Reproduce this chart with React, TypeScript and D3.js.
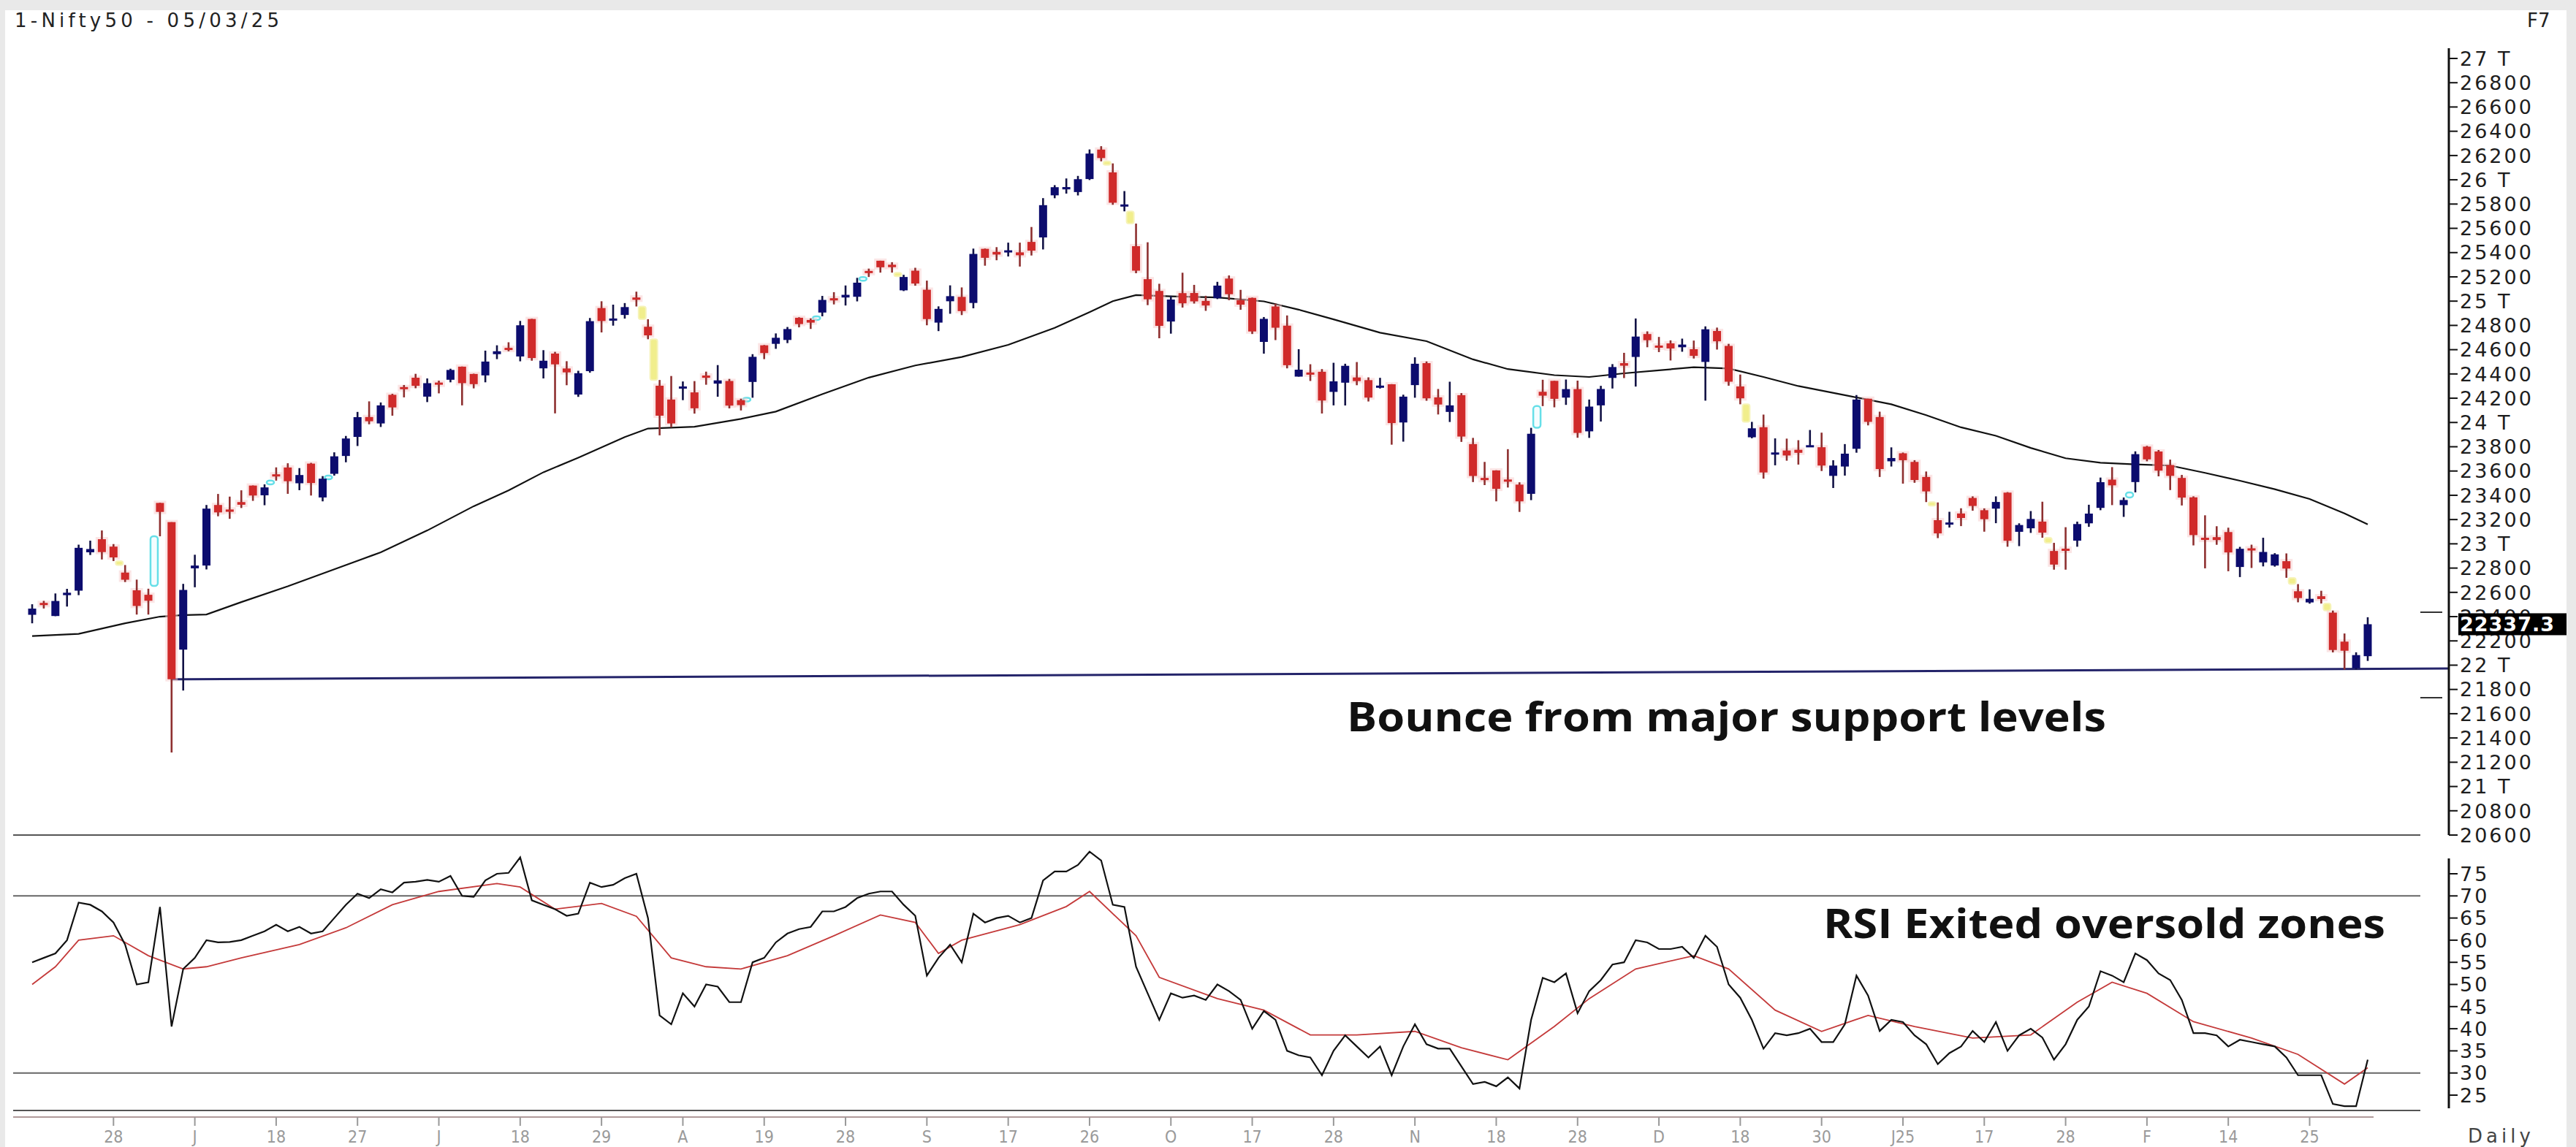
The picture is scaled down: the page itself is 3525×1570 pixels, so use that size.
import React from "react";
import * as d3 from "d3";

// ---------------- DATA ----------------
const opens = [22415,22513,22405,22577,22614,22930,23038,22977,22763,22617,22580,23337,23179,22128,22798,22821,23320,23283,23344,23480,23400,23573,23629,23499,23661,23382,23577,23724,23881,24045,23992,24228,24292,24369,24213,24329,24352,24460,24400,24388,24563,24615,24544,24853,24446,24568,24445,24230,24423,24943,24839,24886,25030,24789,24303,24189,24290,24248,24387,24320,24342,24184,24334,24636,24648,24680,24863,24845,24906,25024,25030,25036,25249,25333,25300,25089,25251,25094,24823,24999,25035,24985,25431,25406,25416,25402,25488,25525,25872,25921,25899,26006,26249,26061,25788,25453,25181,25084,24832,25066,25067,25002,25024,25186,25008,25027,24664,24956,24798,24378,24412,24418,24252,24328,24371,24349,24302,24315,24000,24308,24489,24207,24087,24225,23822,23543,23605,23530,23488,23412,24253,24343,24205,24275,23927,24141,24367,24489,24540,24729,24634,24652,24620,24604,24499,24754,24631,24297,23878,23961,23738,23769,23775,23801,23796,23560,23637,23783,24196,24045,23680,23746,23675,23551,23195,23165,23250,23378,23277,23290,23422,23099,23128,23183,22941,22960,23026,23169,23296,23529,23319,23509,23801,23761,23649,23543,23383,23050,23055,23097,22809,22963,22847,22821,22857,22609,22517,22568,22433,22194,21974,22074];
const highs = [22502,22530,22591,22629,22993,23026,23110,22998,22825,22705,22630,23338,23179,22670,22910,23320,23411,23389,23441,23481,23490,23630,23664,23624,23667,23558,23754,23889,24087,24174,24165,24236,24309,24401,24363,24345,24443,24461,24402,24592,24636,24661,24837,24854,24596,24582,24505,24426,24861,24999,24971,24984,25078,24851,24350,24383,24338,24341,24419,24473,24359,24196,24563,24638,24734,24787,24867,24858,25043,25074,25129,25192,25268,25333,25321,25217,25275,25169,24957,25130,25113,25433,25433,25445,25482,25482,25611,25849,25956,26011,26032,26250,26277,26135,25907,25639,25485,25143,25044,25234,25134,25044,25159,25212,25093,25029,24869,24979,24882,24604,24480,24440,24492,24484,24498,24372,24368,24316,24229,24537,24503,24276,24336,24242,23873,23675,23606,23780,23507,23956,24352,24343,24354,24345,24189,24302,24481,24574,24857,24751,24705,24677,24691,24675,24792,24782,24648,24395,24005,24065,23869,23867,23854,23938,23916,23689,23822,24226,24196,24089,23795,23752,23689,23596,23341,23264,23293,23391,23292,23391,23426,23169,23270,23347,23008,23137,23183,23322,23546,23632,23382,23762,23807,23773,23694,23568,23391,23235,23145,23133,22975,22993,23050,22923,22921,22668,22625,22613,22450,22261,22106,22395];
const lows = [22345,22467,22404,22483,22577,22908,22871,22858,22685,22417,22417,23062,21281,21791,22642,22789,23227,23206,23295,23354,23318,23521,23412,23442,23398,23350,23562,23672,23806,23985,23963,24056,24207,24282,24168,24240,24331,24141,24281,24331,24522,24587,24504,24509,24363,24075,24307,24211,24410,24742,24798,24856,24956,24686,23894,23960,24184,24073,24311,24212,24116,24099,24204,24522,24607,24654,24784,24771,24875,24973,24964,24998,25199,25235,25235,25083,25127,24801,24753,24896,24885,24941,25292,25337,25368,25285,25376,25426,25848,25886,25871,25998,26152,25794,25740,25230,24967,24694,24732,24947,24980,24920,25017,25008,24929,24729,24567,24679,24446,24378,24342,24074,24141,24140,24307,24173,24280,23817,23842,24204,24179,24066,24004,23840,23509,23484,23350,23464,23263,23360,24135,24125,24145,23874,23873,24008,24280,24366,24296,24620,24580,24511,24583,24527,24180,24601,24303,24150,23870,23537,23647,23685,23653,23800,23600,23460,23562,23751,23976,23551,23637,23496,23503,23344,23047,23134,23146,23273,23100,23170,22976,22981,23090,23050,22787,22787,22976,23140,23277,23319,23222,23424,23680,23556,23443,23316,22987,22798,22992,22774,22726,22801,22814,22812,22720,22518,22507,22508,22105,21964,21964,22035];
const closes = [22466,22502,22529,22597,22967,22957,22932,22888,22704,22488,22531,23263,21884,22620,22821,23290,23259,23264,23322,23398,23465,23557,23516,23567,23501,23537,23721,23868,24044,24010,24141,24124,24286,24302,24324,24321,24433,24324,24316,24502,24587,24613,24801,24531,24509,24479,24413,24406,24835,24836,24857,24951,25011,24718,24056,23992,24297,24117,24368,24347,24139,24143,24541,24572,24698,24770,24811,24823,25010,25017,25052,25152,25236,25279,25280,25199,25145,24852,24936,25041,24918,25389,25357,25384,25419,25378,25416,25791,25939,25940,26005,26216,26179,25811,25797,25251,25015,24796,25013,24982,24998,24964,25128,25057,24971,24750,24854,24781,24472,24435,24399,24181,24339,24467,24341,24205,24304,23995,24213,24484,24199,24148,24141,23884,23559,23533,23453,23518,23350,23907,24221,24195,24275,23914,24131,24276,24457,24468,24708,24678,24620,24610,24642,24549,24768,24669,24336,24199,23952,23588,23753,23728,23750,23813,23645,23645,23743,24189,24005,23616,23707,23689,23526,23432,23086,23176,23213,23312,23203,23345,23025,23155,23205,23092,22829,22957,23163,23249,23508,23482,23361,23739,23696,23603,23560,23381,23072,23045,23031,22929,22959,22945,22933,22913,22796,22553,22547,22545,22125,22119,22083,22337.3];

// Moving average (bar index, value)
const maBars = [0,4,8,11,13,15,18,22,26,30,34,38,41,44,47,51,53,57,61,64,68,72,76,80,84,88,91,93,95,98,102,106,109,112,116,120,124,127,131,134,137,140,143,146,149,152,156,160,163,166,169,172,175,178,181,184,187,190,193,196,199,201];
const maValues = [22240,22258,22345,22400,22413,22418,22520,22650,22790,22930,23110,23310,23440,23590,23710,23880,23950,23965,24030,24090,24234,24370,24470,24540,24640,24780,24910,25000,25050,25040,25030,24998,24930,24850,24740,24670,24520,24440,24390,24375,24405,24430,24455,24445,24375,24300,24225,24150,24060,23960,23890,23790,23705,23668,23655,23645,23585,23520,23450,23370,23250,23160];

// RSI per bar
const rsiValues = [55,56,57,60,68.5,68,66.5,64,59,50,50.5,67.5,40.5,53.5,56,60,59.5,59.6,60,61,62,63.5,62,63,61.5,62,65,68,70.5,69.5,71.5,70.8,73,73.2,73.6,73.2,74.5,70,69.8,73.5,75,75.2,78.7,69,68,67,65.5,66,73,72,72.5,74,75,65,43,41,48,45,50,49.5,46,46,55,56,59.5,61.5,62.5,63,66.5,66.5,67.5,69.5,70.5,71,71,68,65.5,52,56,59,55,66,64,65,65.5,64,65,73.5,75.5,75.5,77,80,78,68,67.5,54,48,42,48,47,47.5,46.5,50,48.5,46.5,40,44,42,35,34,33.5,29.5,35,38.5,36,33.5,36,29.5,36,41,36.5,35.5,35.5,31.5,27.5,28,27,29,26.5,42,51.5,50.5,52.5,43.5,48.5,51,54.5,55,60,59.5,58,58,58.5,56,61,58.5,50,47,42,35.5,39,38.5,39,40,37,37,41,52,47.5,39.5,42,41.5,38.5,36.5,32,34.5,36,39.5,37,41.5,35,38.5,40,38,33,36.5,42,45,53,52,50.5,57,55.5,52.5,51,46.5,39,39,38.5,36,37.5,37,36.5,36,33.5,29.5,29.5,29.5,23,22.5,22.5,33];
// RSI signal line (bar index, value)
const sigBars = [0,2,4,7,10,13,15,18,23,27,31,35,40,42,45,49,52,55,58,61,65,69,73,76,78,80,85,89,91,95,97,102,106,110,114,119,123,127,131,134,138,143,146,150,154,158,162,167,172,176,179,182,186,191,195,199,201];
const sigValues = [50,54,60,61,56.5,53.5,54,56,59,62.8,68,71,72.8,72,67,68.3,65.4,56,54,53.5,56.5,61,65.7,64,57,60,63.5,67.6,71,61,51.6,46.8,44.2,38.6,38.6,39.4,35.7,33,40.5,46.8,53.5,56.5,53.5,44.2,39.4,43,40.5,37.9,38.6,46,50.5,48,41.6,37.9,34.2,27.5,31.2];

// Gap markers: position between bars, price range, kind
const gapPos = [7.5,10.5,20.5,25.5,52.5,53.5,61.5,67.5,71.5,74.5,92.5,94.5,129.5,147.5,163.5,173.5,180.5,194.5,197.5];
const gapLo = [22825,22653,23490,23558,24851,24350,24196,24858,25192,25217,26135,25639,23956,24005,23341,23008,23382,22668,22450];
const gapHi = [22858,23062,23521,23562,24956,24686,24204,24875,25199,25235,26152,25740,24135,24150,23344,23050,23424,22720,22508];
const gapUp = [false,true,true,true,false,false,true,true,true,false,false,false,true,false,false,false,true,false,false];

const xTickBars = d3.range(7, 197, 7);
const xTickLabels = ["28","J","18","27","J","18","29","A","19","28","S","17","26","O","17","28","N","18","28","D","18","30","J25","17","28","F","14","25"];
const priceTicks = d3.range(20600, 27001, 200);
const rsiTicks = [25,30,35,40,45,50,55,60,65,70,75];

const lastPrice = 22337.3;

// ---------------- CHART ----------------
export default function App() {
  const W = 3525, H = 1570;
  const x = d3.scaleLinear().domain([0, 201]).range([44, 3240]);
  const y = d3.scaleLinear().domain([20600, 27000]).range([1143, 80]);
  const r = d3.scaleLinear().domain([25, 75]).range([1499, 1196]);
  const axisX = 3351;
  const bodyW = 11;

  const maPath = d3.line<number>().x((_, i) => x(maBars[i])).y((v) => y(v))(maValues) || "";
  const rsiPath = d3.line<number>().x((_, i) => x(i)).y((v) => r(v))(rsiValues) || "";
  const sigPath = d3.line<number>().x((_, i) => x(sigBars[i])).y((v) => r(v))(sigValues) || "";

  const fmtPrice = (p: number) => (p % 1000 === 0 ? `${p / 1000} T` : `${p}`);
  const axisFont = "DejaVu Sans, Verdana, sans-serif";
  const boldFont = "Open Sans, Noto Sans, sans-serif";

  return (
    <svg width={W} height={H} style={{ position: "absolute", left: 0, top: 0, display: "block" }}>
      <rect x={0} y={0} width={W} height={H} fill="#e9e9e9" />
      <rect x={7} y={14} width={3505} height={H - 14} fill="#ffffff" />

      {/* title */}
      <text x={20} y={37} fontFamily={axisFont} fontSize={26} fill="#222" textLength={362} lengthAdjust="spacing">1-Nifty50 - 05/03/25</text>
      <text x={3458} y={37} fontFamily={axisFont} fontSize={26} fill="#222">F7</text>

      {/* price panel bottom border */}
      <line x1={18} x2={3312} y1={y(20600)} y2={y(20600)} stroke="#555" strokeWidth={2} />

      {/* moving average */}
      <path d={maPath} fill="none" stroke="#111" strokeWidth={2.2} />

      {/* support line */}
      <line x1={x(12)} y1={y(21884)} x2={axisX} y2={y(21972)} stroke="#24246a" strokeWidth={3} />

      {/* gap markers */}
      {gapPos.map((g, i) => {
        const y1 = y(gapHi[i]);
        const y2 = y(gapLo[i]);
        const h = Math.max(5, y2 - y1);
        return gapUp[i] ? (
          <rect key={"g" + i} x={x(g) - 5} y={y1} width={10} height={h} rx={4} fill="#f4fdff" stroke="#66dfe8" strokeWidth={2.5} />
        ) : (
          <rect key={"g" + i} x={x(g) - 5} y={y1} width={10} height={h} rx={3} fill="#f1ee8c" stroke="#f6f3b8" strokeWidth={2} />
        );
      })}

      {/* candles */}
      {opens.map((o, i) => {
        const c = closes[i];
        const up = c >= o;
        const cx = x(i);
        const top = y(Math.max(o, c));
        const bot = y(Math.min(o, c));
        const h = Math.max(3, bot - top);
        return (
          <g key={"c" + i}>
            {!up && <rect x={cx - bodyW / 2 - 3} y={top - 3} width={bodyW + 6} height={h + 6} fill="#f8cccc" opacity={0.5} />}
            <line x1={cx} x2={cx} y1={y(highs[i])} y2={y(lows[i])} stroke={up ? "#121245" : "#8e3030"} strokeWidth={2.6} />
            <rect x={cx - bodyW / 2} y={top} width={bodyW} height={h} fill={up ? "#0c0c6e" : "#d02a2a"} />
          </g>
        );
      })}

      {/* annotation */}
      <text x={1843} y={1001} fontFamily={boldFont} fontWeight={700} fontSize={55} fill="#111" textLength={1039} lengthAdjust="spacingAndGlyphs">Bounce from major support levels</text>

      {/* price axis */}
      <line x1={axisX} x2={axisX} y1={66} y2={y(20600)} stroke="#111" strokeWidth={3} />
      {priceTicks.map((p) => (
        <g key={"p" + p}>
          <line x1={axisX} x2={axisX + 12} y1={y(p)} y2={y(p)} stroke="#111" strokeWidth={2} />
          <text x={axisX + 15} y={y(p)} dy="0.36em" fontFamily={axisFont} fontSize={27} letterSpacing={3} fill="#1d1d1d">{fmtPrice(p)}</text>
        </g>
      ))}
      {/* level dashes */}
      <line x1={3312} x2={3342} y1={838} y2={838} stroke="#333" strokeWidth={2} />
      <line x1={3312} x2={3342} y1={955} y2={955} stroke="#333" strokeWidth={2} />
      {/* last price box */}
      <rect x={3364} y={y(lastPrice) - 15} width={148} height={30} fill="#000" />
      <text x={3366} y={y(lastPrice)} dy="0.37em" fontFamily={axisFont} fontWeight={700} fontSize={27} letterSpacing={1} fill="#fff">{lastPrice.toFixed(1)}</text>

      {/* RSI panel */}
      <line x1={18} x2={3312} y1={r(70)} y2={r(70)} stroke="#666" strokeWidth={2} />
      <line x1={18} x2={3312} y1={r(30)} y2={r(30)} stroke="#666" strokeWidth={2} />
      <line x1={18} x2={3312} y1={1520} y2={1520} stroke="#555" strokeWidth={2} />
      <path d={sigPath} fill="none" stroke="#c43a3a" strokeWidth={1.8} />
      <path d={rsiPath} fill="none" stroke="#111" strokeWidth={2.2} />
      <text x={2495} y={1284} fontFamily={boldFont} fontWeight={700} fontSize={55} fill="#111" textLength={769} lengthAdjust="spacingAndGlyphs">RSI Exited oversold zones</text>

      <line x1={axisX} x2={axisX} y1={1175} y2={1517} stroke="#111" strokeWidth={3} />
      {rsiTicks.map((t) => (
        <g key={"r" + t}>
          <line x1={axisX} x2={axisX + 12} y1={r(t)} y2={r(t)} stroke="#111" strokeWidth={2} />
          <text x={axisX + 15} y={r(t)} dy="0.36em" fontFamily={axisFont} fontSize={27} letterSpacing={3} fill="#1d1d1d">{t}</text>
        </g>
      ))}

      {/* time axis */}
      <line x1={18} x2={3248} y1={1529} y2={1529} stroke="#b09a9a" strokeWidth={2} />
      {xTickBars.map((b, i) => (
        <g key={"t" + b}>
          <line x1={x(b)} x2={x(b)} y1={1529} y2={1541} stroke="#999" strokeWidth={2} />
          <text x={x(b)} y={1564} textAnchor="middle" fontFamily="Liberation Sans Narrow, DejaVu Sans Condensed, sans-serif" fontSize={23} fill="#9a9a9a">{xTickLabels[i]}</text>
        </g>
      ))}
      <text x={3377} y={1564} fontFamily={axisFont} fontSize={26} fill="#444" textLength={86} lengthAdjust="spacing">Daily</text>
    </svg>
  );
}
